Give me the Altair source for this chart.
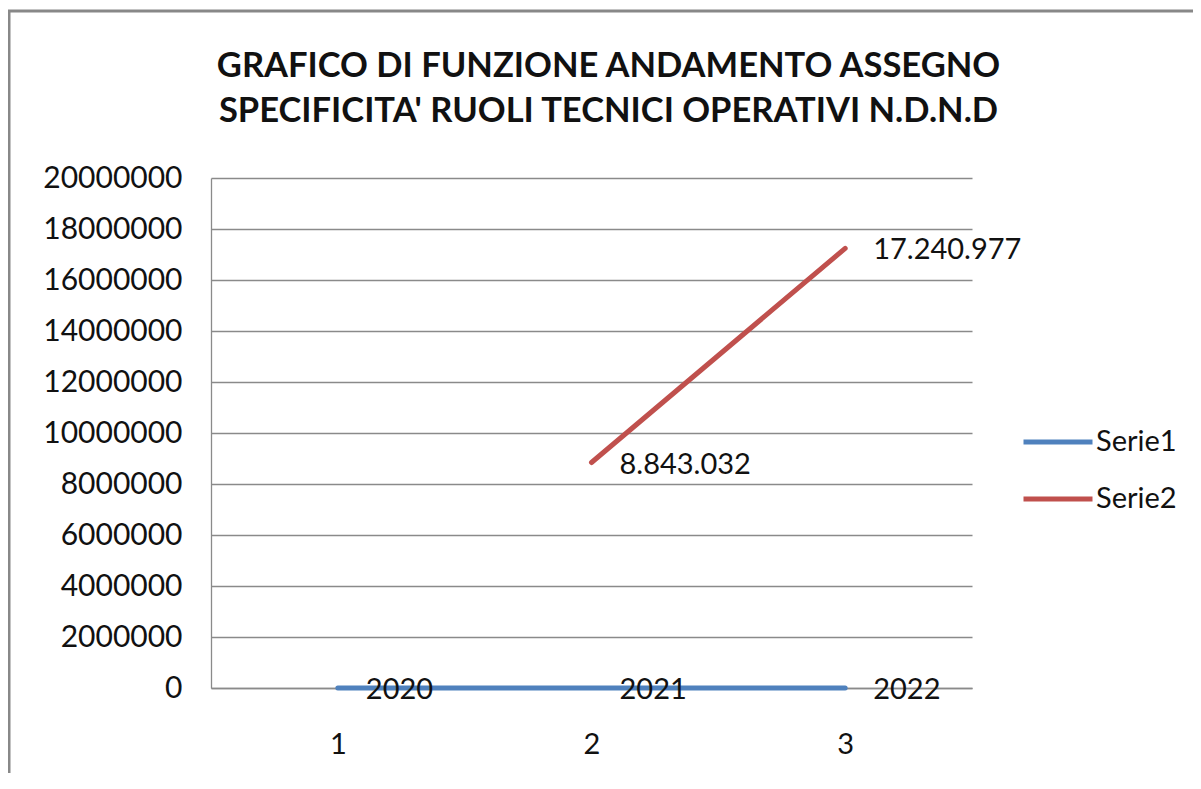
import altair as alt
import pandas as pd

categories = [1, 2, 3]
serie1 = [2020, 2021, 2022]
serie2 = [None, 8843032, 17240977]
series_names = ["Serie1", "Serie2"]
y_ticks = [0, 2000000, 4000000, 6000000, 8000000, 10000000,
           12000000, 14000000, 16000000, 18000000, 20000000]
title_lines = ["GRAFICO DI FUNZIONE ANDAMENTO ASSEGNO",
               "SPECIFICITA' RUOLI TECNICI OPERATIVI N.D.N.D"]

rows = []
for name, vals in zip(series_names, [serie1, serie2]):
    for c, v in zip(categories, vals):
        if v is None:
            continue
        lab = str(v) if name == "Serie1" else f"{v:,}".replace(",", ".")
        rows.append({"cat": c, "value": v, "series": name, "label": lab})
df = pd.DataFrame(rows)

FONT = "Lato"
GRID = "#8a8a8a"

x_enc = alt.X("cat:O", title=None,
              axis=alt.Axis(labelAngle=0, ticks=False, domainColor=GRID, domainWidth=1.3,
                            labelFont=FONT, labelFontSize=29, labelColor="#111",
                            labelPadding=42, grid=False))
y_enc = alt.Y("value:Q", title=None,
              scale=alt.Scale(domain=[0, 20000000], nice=False),
              axis=alt.Axis(values=y_ticks, format="d", ticks=False,
                            domainColor=GRID, domainWidth=1.3,
                            gridColor=GRID, gridWidth=1.3,
                            labelFont=FONT, labelFontSize=30, labelColor="#111",
                            labelPadding=29))

color_enc = alt.Color("series:N", title=None,
                      scale=alt.Scale(domain=series_names, range=["#4F81BD", "#C0504D"]),
                      legend=alt.Legend(orient="none", legendX=810, legendY=227,
                                        symbolType="stroke", symbolSize=4761,
                                        symbolStrokeWidth=5, labelFont=FONT,
                                        labelFontSize=29, labelColor="#111",
                                        labelOffset=1, rowPadding=5, padding=0))

frame = alt.Chart(pd.DataFrame({"f": [0]})).mark_rect(
    fillOpacity=0, stroke="#888888", strokeWidth=3
).encode(x=alt.value(-202), x2=alt.value(1200), y=alt.value(-167), y2=alt.value(900))

lines = alt.Chart(df).mark_line(strokeWidth=5, strokeCap="round").encode(
    x=x_enc, y=y_enc, color=color_enc, detail="series:N")

labels = alt.Chart(df).mark_text(align="left", baseline="middle", dx=28, dy=2,
                                 font=FONT, fontSize=29, color="#111").encode(
    x=alt.X("cat:O"), y=alt.Y("value:Q"), text="label:N")

chart = alt.layer(frame, lines, labels).properties(
    width=761, height=510,
    autosize=alt.AutoSizeParams(type="none"),
    padding={"left": 203, "top": 170, "right": 221, "bottom": 85},
    title=alt.TitleParams(text=title_lines, font=FONT, fontSize=34.5, fontWeight="bold",
                          color="#111", lineHeight=45, anchor="middle", dx=17,
                          offset=-119.5, frame="group"),
).configure_view(stroke=None)

chart.save("out.html", embed_options={"renderer": "svg", "actions": False})
